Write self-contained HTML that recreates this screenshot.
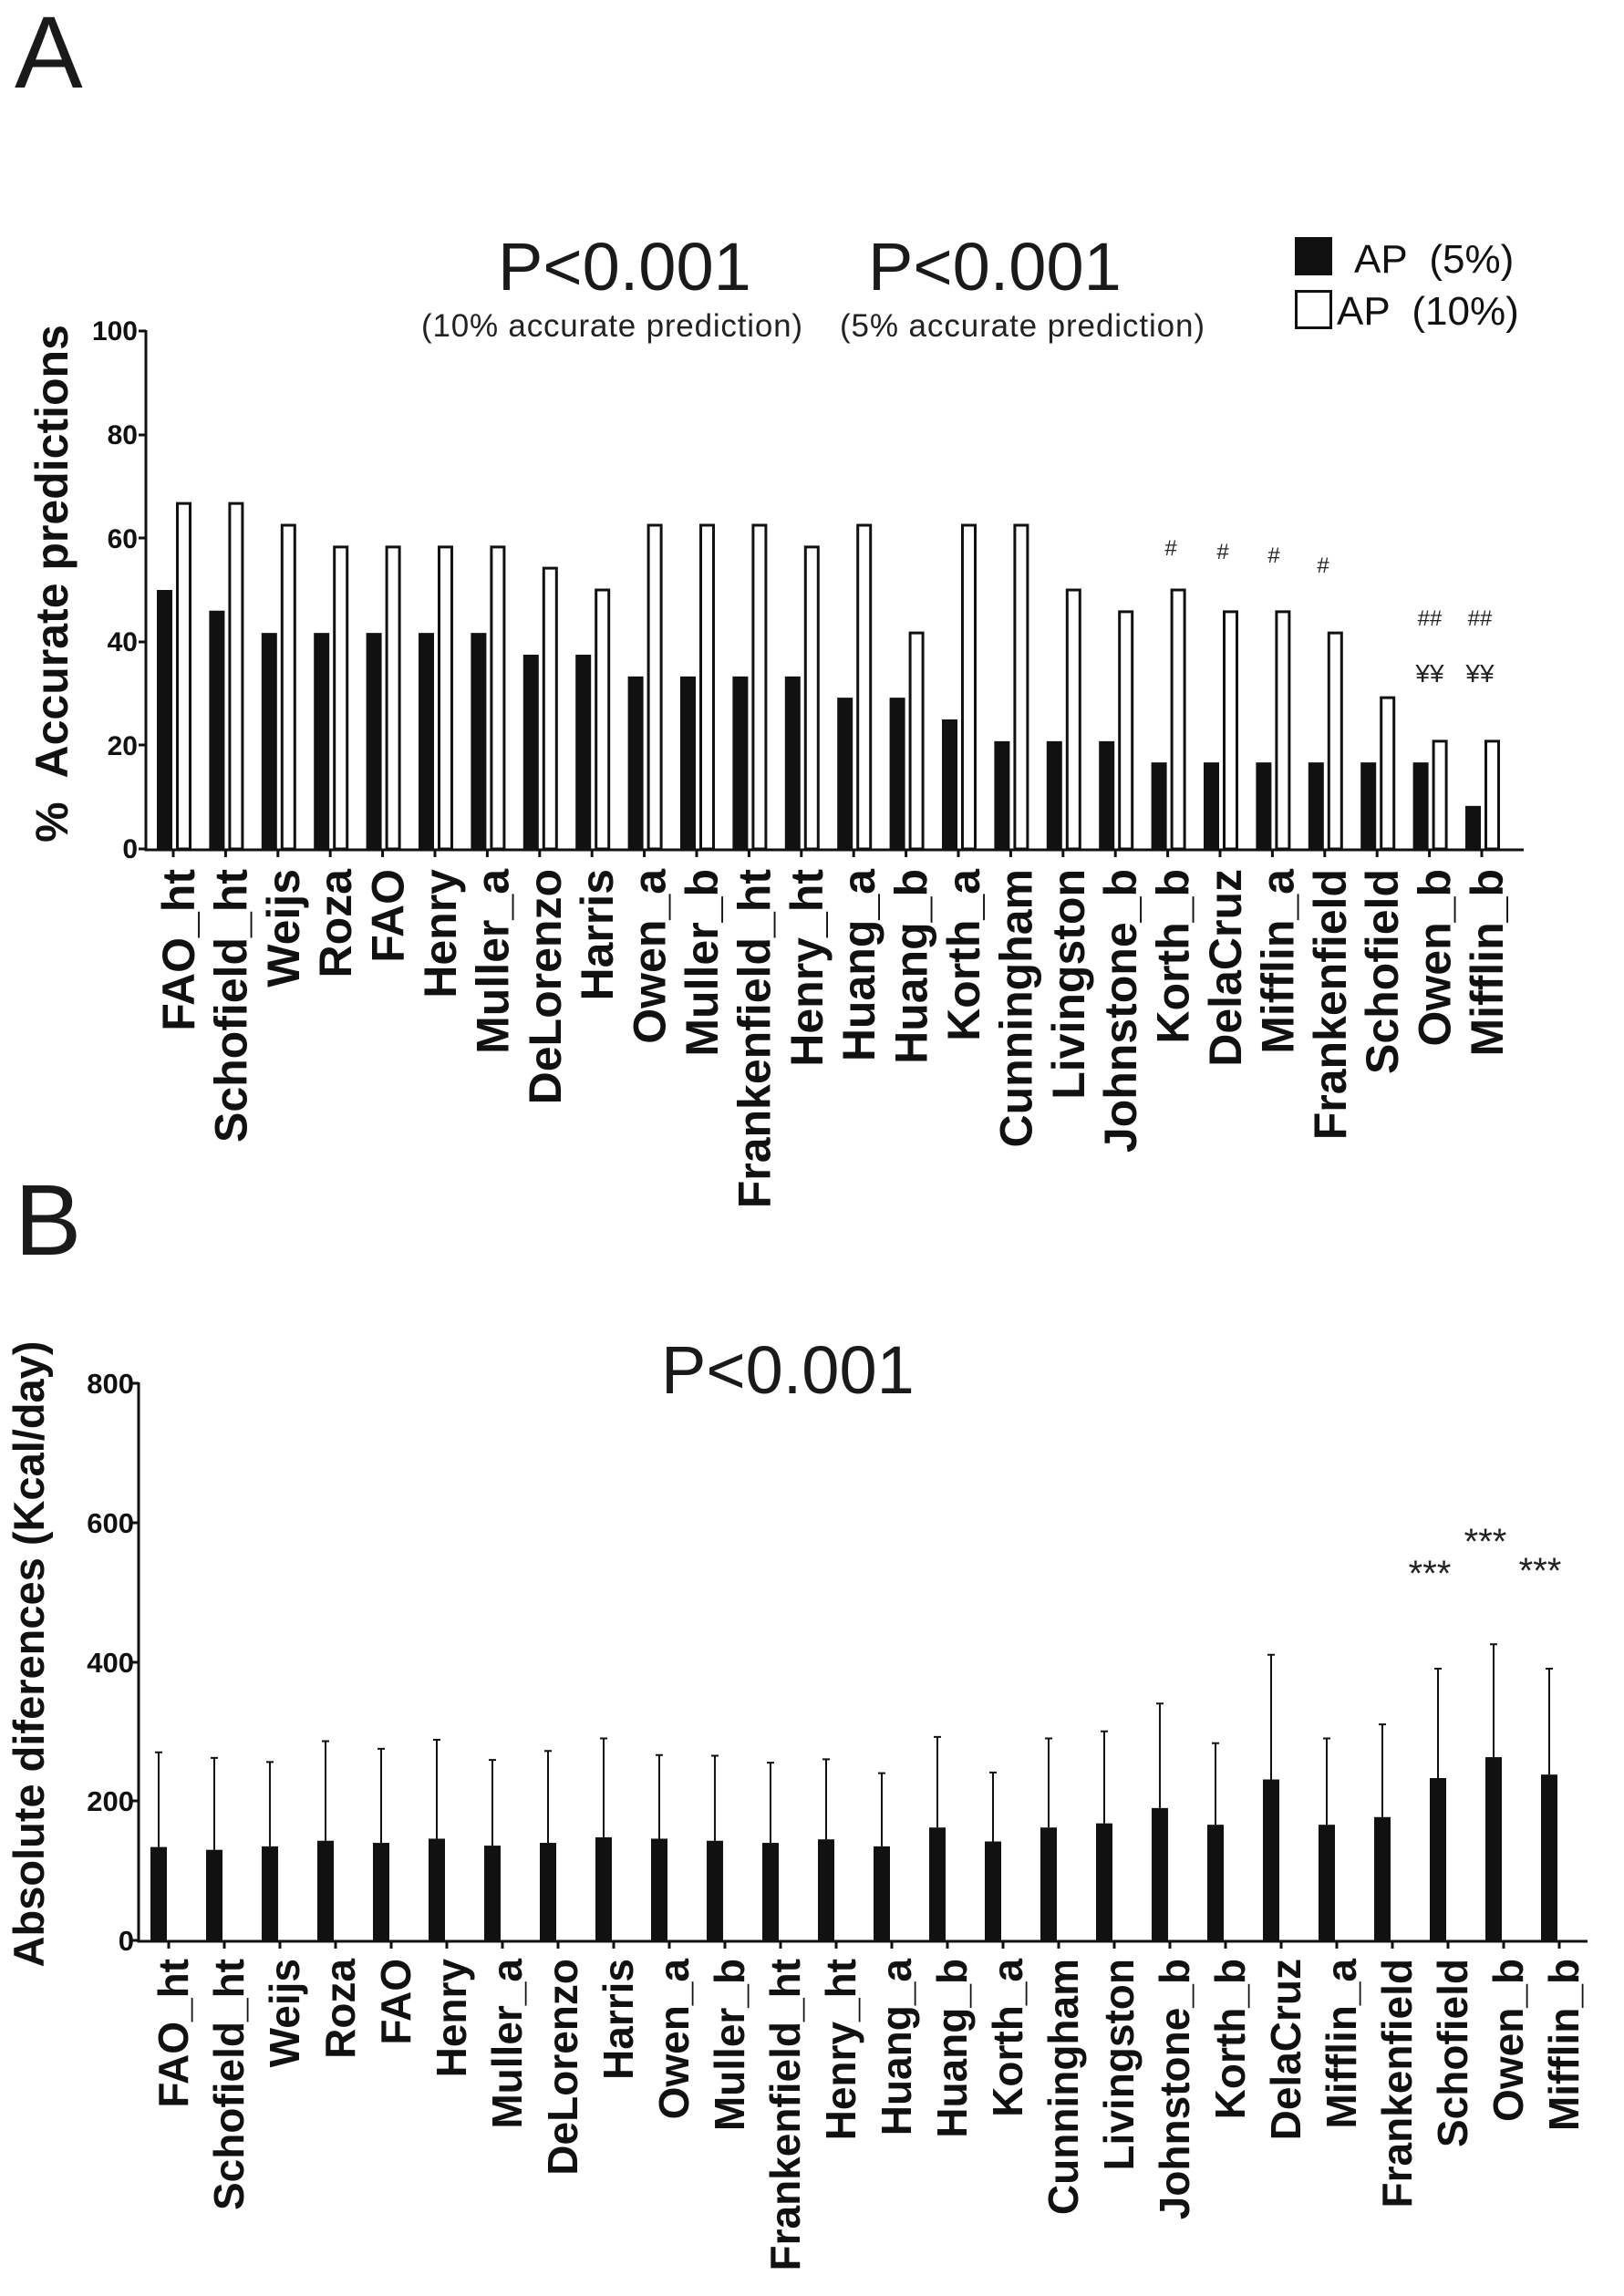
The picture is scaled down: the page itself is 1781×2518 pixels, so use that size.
<!DOCTYPE html>
<html><head><meta charset="utf-8"><style>
html,body{margin:0;padding:0;background:#fff;}
svg{display:block;font-family:"Liberation Sans",Arial,sans-serif;}
.b{font-weight:bold;}
</style></head><body>
<svg width="1781" height="2518" viewBox="0 0 1781 2518" xmlns="http://www.w3.org/2000/svg">
<rect width="1781" height="2518" fill="#fff"/>
<!-- Panel A -->
<text x="16" y="96" font-size="112" fill="#1a1a1a">A</text>
<text x="546" y="318" font-size="74" fill="#1a1a1a">P&lt;0.001</text>
<text x="952" y="318" font-size="74" fill="#1a1a1a">P&lt;0.001</text>
<text x="462" y="369" font-size="35" fill="#222" textLength="418">(10% accurate prediction)</text>
<text x="921" y="369" font-size="35" fill="#222" textLength="400">(5% accurate prediction)</text>
<rect x="1420" y="260" width="41" height="42" fill="#111"/>
<rect x="1421.5" y="319.5" width="38" height="40" fill="#fff" stroke="#111" stroke-width="3"/>
<text x="1485" y="299" font-size="44" fill="#111" xml:space="preserve">AP  (5%)</text>
<text x="1466" y="356" font-size="44" fill="#111" xml:space="preserve">AP  (10%)</text>
<text transform="translate(74,640) rotate(-90)" text-anchor="middle" class="b" font-size="50" fill="#111" xml:space="preserve">%  Accurate predictions</text>
<g class="b" font-size="30" fill="#111" text-anchor="end">
<text x="151" y="373">100</text>
<text x="151" y="487">80</text><text x="151" y="601">60</text><text x="151" y="714">40</text><text x="151" y="828">20</text><text x="151" y="941">0</text>
</g>
<g stroke="#111" stroke-width="3" fill="none">
<path d="M160,362 V932 H1671"/>
<path d="M152,363H160M152,477H160M152,590H160M152,704H160M152,817H160M152,931H160"/>
<path d="M190,931v9M247.4,931v9M304.8,931v9M362.2,931v9M419.6,931v9M477,931v9M534.4,931v9M591.8,931v9M649.2,931v9M706.6,931v9M764,931v9M821.4,931v9M878.8,931v9M936.2,931v9M993.6,931v9M1051,931v9M1108.4,931v9M1165.8,931v9M1223.2,931v9M1280.6,931v9M1338,931v9M1395.4,931v9M1452.8,931v9M1510.2,931v9M1567.6,931v9M1625,931v9"/>
</g>
<g transform="translate(0,931) scale(1,-5.68)">
<g transform="translate(190,0)"><rect x="-18" width="17" height="50" fill="#111"/><rect x="4.5" width="14" height="66.7" fill="#fff" stroke="#111" stroke-width="3" vector-effect="non-scaling-stroke"/></g>
<g transform="translate(247.4,0)"><rect x="-18" width="17" height="46" fill="#111"/><rect x="4.5" width="14" height="66.7" fill="#fff" stroke="#111" stroke-width="3" vector-effect="non-scaling-stroke"/></g>
<g transform="translate(304.8,0)"><rect x="-18" width="17" height="41.7" fill="#111"/><rect x="4.5" width="14" height="62.5" fill="#fff" stroke="#111" stroke-width="3" vector-effect="non-scaling-stroke"/></g>
<g transform="translate(362.2,0)"><rect x="-18" width="17" height="41.7" fill="#111"/><rect x="4.5" width="14" height="58.3" fill="#fff" stroke="#111" stroke-width="3" vector-effect="non-scaling-stroke"/></g>
<g transform="translate(419.6,0)"><rect x="-18" width="17" height="41.7" fill="#111"/><rect x="4.5" width="14" height="58.3" fill="#fff" stroke="#111" stroke-width="3" vector-effect="non-scaling-stroke"/></g>
<g transform="translate(477,0)"><rect x="-18" width="17" height="41.7" fill="#111"/><rect x="4.5" width="14" height="58.3" fill="#fff" stroke="#111" stroke-width="3" vector-effect="non-scaling-stroke"/></g>
<g transform="translate(534.4,0)"><rect x="-18" width="17" height="41.7" fill="#111"/><rect x="4.5" width="14" height="58.3" fill="#fff" stroke="#111" stroke-width="3" vector-effect="non-scaling-stroke"/></g>
<g transform="translate(591.8,0)"><rect x="-18" width="17" height="37.5" fill="#111"/><rect x="4.5" width="14" height="54.2" fill="#fff" stroke="#111" stroke-width="3" vector-effect="non-scaling-stroke"/></g>
<g transform="translate(649.2,0)"><rect x="-18" width="17" height="37.5" fill="#111"/><rect x="4.5" width="14" height="50" fill="#fff" stroke="#111" stroke-width="3" vector-effect="non-scaling-stroke"/></g>
<g transform="translate(706.6,0)"><rect x="-18" width="17" height="33.3" fill="#111"/><rect x="4.5" width="14" height="62.5" fill="#fff" stroke="#111" stroke-width="3" vector-effect="non-scaling-stroke"/></g>
<g transform="translate(764,0)"><rect x="-18" width="17" height="33.3" fill="#111"/><rect x="4.5" width="14" height="62.5" fill="#fff" stroke="#111" stroke-width="3" vector-effect="non-scaling-stroke"/></g>
<g transform="translate(821.4,0)"><rect x="-18" width="17" height="33.3" fill="#111"/><rect x="4.5" width="14" height="62.5" fill="#fff" stroke="#111" stroke-width="3" vector-effect="non-scaling-stroke"/></g>
<g transform="translate(878.8,0)"><rect x="-18" width="17" height="33.3" fill="#111"/><rect x="4.5" width="14" height="58.3" fill="#fff" stroke="#111" stroke-width="3" vector-effect="non-scaling-stroke"/></g>
<g transform="translate(936.2,0)"><rect x="-18" width="17" height="29.2" fill="#111"/><rect x="4.5" width="14" height="62.5" fill="#fff" stroke="#111" stroke-width="3" vector-effect="non-scaling-stroke"/></g>
<g transform="translate(993.6,0)"><rect x="-18" width="17" height="29.2" fill="#111"/><rect x="4.5" width="14" height="41.7" fill="#fff" stroke="#111" stroke-width="3" vector-effect="non-scaling-stroke"/></g>
<g transform="translate(1051,0)"><rect x="-18" width="17" height="25" fill="#111"/><rect x="4.5" width="14" height="62.5" fill="#fff" stroke="#111" stroke-width="3" vector-effect="non-scaling-stroke"/></g>
<g transform="translate(1108.4,0)"><rect x="-18" width="17" height="20.8" fill="#111"/><rect x="4.5" width="14" height="62.5" fill="#fff" stroke="#111" stroke-width="3" vector-effect="non-scaling-stroke"/></g>
<g transform="translate(1165.8,0)"><rect x="-18" width="17" height="20.8" fill="#111"/><rect x="4.5" width="14" height="50" fill="#fff" stroke="#111" stroke-width="3" vector-effect="non-scaling-stroke"/></g>
<g transform="translate(1223.2,0)"><rect x="-18" width="17" height="20.8" fill="#111"/><rect x="4.5" width="14" height="45.8" fill="#fff" stroke="#111" stroke-width="3" vector-effect="non-scaling-stroke"/></g>
<g transform="translate(1280.6,0)"><rect x="-18" width="17" height="16.7" fill="#111"/><rect x="4.5" width="14" height="50" fill="#fff" stroke="#111" stroke-width="3" vector-effect="non-scaling-stroke"/></g>
<g transform="translate(1338,0)"><rect x="-18" width="17" height="16.7" fill="#111"/><rect x="4.5" width="14" height="45.8" fill="#fff" stroke="#111" stroke-width="3" vector-effect="non-scaling-stroke"/></g>
<g transform="translate(1395.4,0)"><rect x="-18" width="17" height="16.7" fill="#111"/><rect x="4.5" width="14" height="45.8" fill="#fff" stroke="#111" stroke-width="3" vector-effect="non-scaling-stroke"/></g>
<g transform="translate(1452.8,0)"><rect x="-18" width="17" height="16.7" fill="#111"/><rect x="4.5" width="14" height="41.7" fill="#fff" stroke="#111" stroke-width="3" vector-effect="non-scaling-stroke"/></g>
<g transform="translate(1510.2,0)"><rect x="-18" width="17" height="16.7" fill="#111"/><rect x="4.5" width="14" height="29.2" fill="#fff" stroke="#111" stroke-width="3" vector-effect="non-scaling-stroke"/></g>
<g transform="translate(1567.6,0)"><rect x="-18" width="17" height="16.7" fill="#111"/><rect x="4.5" width="14" height="20.8" fill="#fff" stroke="#111" stroke-width="3" vector-effect="non-scaling-stroke"/></g>
<g transform="translate(1625,0)"><rect x="-18" width="17" height="8.3" fill="#111"/><rect x="4.5" width="14" height="20.8" fill="#fff" stroke="#111" stroke-width="3" vector-effect="non-scaling-stroke"/></g>
</g>
<g font-size="24" fill="#222" text-anchor="middle">
<text x="1284" y="609">#</text><text x="1341" y="613">#</text><text x="1397" y="617">#</text><text x="1451" y="628">#</text>
<text x="1568" y="686">##</text><text x="1623" y="686">##</text>
<text x="1568" y="748" font-size="28">¥¥</text><text x="1623" y="748" font-size="28">¥¥</text>
</g>
<g class="b" font-size="50" fill="#111" text-anchor="end">
<text transform="translate(213,953) rotate(-90)">FAO_ht</text>
<text transform="translate(270.4,953) rotate(-90)">Schofield_ht</text>
<text transform="translate(327.8,953) rotate(-90)">Weijs</text>
<text transform="translate(385.2,953) rotate(-90)">Roza</text>
<text transform="translate(442.6,953) rotate(-90)">FAO</text>
<text transform="translate(500,953) rotate(-90)">Henry</text>
<text transform="translate(557.4,953) rotate(-90)">Muller_a</text>
<text transform="translate(614.8,953) rotate(-90)">DeLorenzo</text>
<text transform="translate(672.2,953) rotate(-90)">Harris</text>
<text transform="translate(729.6,953) rotate(-90)">Owen_a</text>
<text transform="translate(787,953) rotate(-90)">Muller_b</text>
<text transform="translate(844.4,953) rotate(-90)">Frankenfield_ht</text>
<text transform="translate(901.8,953) rotate(-90)">Henry_ht</text>
<text transform="translate(959.2,953) rotate(-90)">Huang_a</text>
<text transform="translate(1016.6,953) rotate(-90)">Huang_b</text>
<text transform="translate(1074,953) rotate(-90)">Korth_a</text>
<text transform="translate(1131.4,953) rotate(-90)">Cunningham</text>
<text transform="translate(1188.8,953) rotate(-90)">Livingston</text>
<text transform="translate(1246.2,953) rotate(-90)">Johnstone_b</text>
<text transform="translate(1303.6,953) rotate(-90)">Korth_b</text>
<text transform="translate(1361,953) rotate(-90)">DelaCruz</text>
<text transform="translate(1418.4,953) rotate(-90)">Mifflin_a</text>
<text transform="translate(1475.8,953) rotate(-90)">Frankenfield</text>
<text transform="translate(1533.2,953) rotate(-90)">Schofield</text>
<text transform="translate(1590.6,953) rotate(-90)">Owen_b</text>
<text transform="translate(1648,953) rotate(-90)">Mifflin_b</text>
</g>

<!-- Panel B -->
<text x="16" y="1376" font-size="110" fill="#1a1a1a">B</text>
<text x="725" y="1528" font-size="74" fill="#1a1a1a">P&lt;0.001</text>
<text transform="translate(48,1814) rotate(-90)" text-anchor="middle" class="b" font-size="47" fill="#111">Absolute diferences (Kcal/day)</text>
<g class="b" font-size="31" fill="#111" text-anchor="end">
<text x="147" y="1528">800</text><text x="147" y="1681">600</text><text x="147" y="1834">400</text><text x="147" y="1986">200</text><text x="147" y="2139">0</text>
</g>
<g stroke="#111" stroke-width="3" fill="none">
<path d="M152,1516 V2129 H1741"/>
<path d="M145,1517H152M145,1670H152M145,1823H152M145,1975H152M145,2128H152"/>
<path d="M185,2128v9M246,2128v9M307,2128v9M368,2128v9M429,2128v9M490,2128v9M551,2128v9M612,2128v9M673,2128v9M734,2128v9M795,2128v9M856,2128v9M917,2128v9M978,2128v9M1039,2128v9M1100,2128v9M1161,2128v9M1222,2128v9M1283,2128v9M1344,2128v9M1405,2128v9M1466,2128v9M1527,2128v9M1588,2128v9M1649,2128v9M1710,2128v9"/>
</g>
<g transform="translate(0,2128) scale(1,-0.764)" fill="#111" stroke="#111">
<g transform="translate(185,0)"><rect x="-20" width="18" height="134" stroke="none"/><path d="M-11,134V270M-15,270H-7" stroke-width="2" vector-effect="non-scaling-stroke"/></g>
<g transform="translate(246,0)"><rect x="-20" width="18" height="130" stroke="none"/><path d="M-11,130V262M-15,262H-7" stroke-width="2" vector-effect="non-scaling-stroke"/></g>
<g transform="translate(307,0)"><rect x="-20" width="18" height="135" stroke="none"/><path d="M-11,135V256M-15,256H-7" stroke-width="2" vector-effect="non-scaling-stroke"/></g>
<g transform="translate(368,0)"><rect x="-20" width="18" height="143" stroke="none"/><path d="M-11,143V286M-15,286H-7" stroke-width="2" vector-effect="non-scaling-stroke"/></g>
<g transform="translate(429,0)"><rect x="-20" width="18" height="140" stroke="none"/><path d="M-11,140V275M-15,275H-7" stroke-width="2" vector-effect="non-scaling-stroke"/></g>
<g transform="translate(490,0)"><rect x="-20" width="18" height="146" stroke="none"/><path d="M-11,146V288M-15,288H-7" stroke-width="2" vector-effect="non-scaling-stroke"/></g>
<g transform="translate(551,0)"><rect x="-20" width="18" height="136" stroke="none"/><path d="M-11,136V259M-15,259H-7" stroke-width="2" vector-effect="non-scaling-stroke"/></g>
<g transform="translate(612,0)"><rect x="-20" width="18" height="140" stroke="none"/><path d="M-11,140V272M-15,272H-7" stroke-width="2" vector-effect="non-scaling-stroke"/></g>
<g transform="translate(673,0)"><rect x="-20" width="18" height="148" stroke="none"/><path d="M-11,148V290M-15,290H-7" stroke-width="2" vector-effect="non-scaling-stroke"/></g>
<g transform="translate(734,0)"><rect x="-20" width="18" height="146" stroke="none"/><path d="M-11,146V266M-15,266H-7" stroke-width="2" vector-effect="non-scaling-stroke"/></g>
<g transform="translate(795,0)"><rect x="-20" width="18" height="143" stroke="none"/><path d="M-11,143V265M-15,265H-7" stroke-width="2" vector-effect="non-scaling-stroke"/></g>
<g transform="translate(856,0)"><rect x="-20" width="18" height="140" stroke="none"/><path d="M-11,140V255M-15,255H-7" stroke-width="2" vector-effect="non-scaling-stroke"/></g>
<g transform="translate(917,0)"><rect x="-20" width="18" height="145" stroke="none"/><path d="M-11,145V260M-15,260H-7" stroke-width="2" vector-effect="non-scaling-stroke"/></g>
<g transform="translate(978,0)"><rect x="-20" width="18" height="135" stroke="none"/><path d="M-11,135V240M-15,240H-7" stroke-width="2" vector-effect="non-scaling-stroke"/></g>
<g transform="translate(1039,0)"><rect x="-20" width="18" height="162" stroke="none"/><path d="M-11,162V292M-15,292H-7" stroke-width="2" vector-effect="non-scaling-stroke"/></g>
<g transform="translate(1100,0)"><rect x="-20" width="18" height="142" stroke="none"/><path d="M-11,142V241M-15,241H-7" stroke-width="2" vector-effect="non-scaling-stroke"/></g>
<g transform="translate(1161,0)"><rect x="-20" width="18" height="162" stroke="none"/><path d="M-11,162V290M-15,290H-7" stroke-width="2" vector-effect="non-scaling-stroke"/></g>
<g transform="translate(1222,0)"><rect x="-20" width="18" height="168" stroke="none"/><path d="M-11,168V300M-15,300H-7" stroke-width="2" vector-effect="non-scaling-stroke"/></g>
<g transform="translate(1283,0)"><rect x="-20" width="18" height="190" stroke="none"/><path d="M-11,190V340M-15,340H-7" stroke-width="2" vector-effect="non-scaling-stroke"/></g>
<g transform="translate(1344,0)"><rect x="-20" width="18" height="166" stroke="none"/><path d="M-11,166V283M-15,283H-7" stroke-width="2" vector-effect="non-scaling-stroke"/></g>
<g transform="translate(1405,0)"><rect x="-20" width="18" height="231" stroke="none"/><path d="M-11,231V410M-15,410H-7" stroke-width="2" vector-effect="non-scaling-stroke"/></g>
<g transform="translate(1466,0)"><rect x="-20" width="18" height="166" stroke="none"/><path d="M-11,166V290M-15,290H-7" stroke-width="2" vector-effect="non-scaling-stroke"/></g>
<g transform="translate(1527,0)"><rect x="-20" width="18" height="177" stroke="none"/><path d="M-11,177V310M-15,310H-7" stroke-width="2" vector-effect="non-scaling-stroke"/></g>
<g transform="translate(1588,0)"><rect x="-20" width="18" height="233" stroke="none"/><path d="M-11,233V390M-15,390H-7" stroke-width="2" vector-effect="non-scaling-stroke"/></g>
<g transform="translate(1649,0)"><rect x="-20" width="18" height="263" stroke="none"/><path d="M-11,263V425M-15,425H-7" stroke-width="2" vector-effect="non-scaling-stroke"/></g>
<g transform="translate(1710,0)"><rect x="-20" width="18" height="238" stroke="none"/><path d="M-11,238V390M-15,390H-7" stroke-width="2" vector-effect="non-scaling-stroke"/></g>
</g>
<g font-size="40" fill="#222" text-anchor="middle">
<text x="1568" y="1739">***</text><text x="1629" y="1704">***</text><text x="1689" y="1736">***</text>
</g>
<g class="b" font-size="46" fill="#111" text-anchor="end">
<text transform="translate(206,2148) rotate(-90)">FAO_ht</text>
<text transform="translate(267,2148) rotate(-90)">Schofield_ht</text>
<text transform="translate(328,2148) rotate(-90)">Weijs</text>
<text transform="translate(389,2148) rotate(-90)">Roza</text>
<text transform="translate(450,2148) rotate(-90)">FAO</text>
<text transform="translate(511,2148) rotate(-90)">Henry</text>
<text transform="translate(572,2148) rotate(-90)">Muller_a</text>
<text transform="translate(633,2148) rotate(-90)">DeLorenzo</text>
<text transform="translate(694,2148) rotate(-90)">Harris</text>
<text transform="translate(755,2148) rotate(-90)">Owen_a</text>
<text transform="translate(816,2148) rotate(-90)">Muller_b</text>
<text transform="translate(877,2148) rotate(-90)">Frankenfield_ht</text>
<text transform="translate(938,2148) rotate(-90)">Henry_ht</text>
<text transform="translate(999,2148) rotate(-90)">Huang_a</text>
<text transform="translate(1060,2148) rotate(-90)">Huang_b</text>
<text transform="translate(1121,2148) rotate(-90)">Korth_a</text>
<text transform="translate(1182,2148) rotate(-90)">Cunningham</text>
<text transform="translate(1243,2148) rotate(-90)">Livingston</text>
<text transform="translate(1304,2148) rotate(-90)">Johnstone_b</text>
<text transform="translate(1365,2148) rotate(-90)">Korth_b</text>
<text transform="translate(1426,2148) rotate(-90)">DelaCruz</text>
<text transform="translate(1487,2148) rotate(-90)">Mifflin_a</text>
<text transform="translate(1548,2148) rotate(-90)">Frankenfield</text>
<text transform="translate(1609,2148) rotate(-90)">Schofield</text>
<text transform="translate(1670,2148) rotate(-90)">Owen_b</text>
<text transform="translate(1731,2148) rotate(-90)">Mifflin_b</text>
</g>
</svg>
</body></html>
